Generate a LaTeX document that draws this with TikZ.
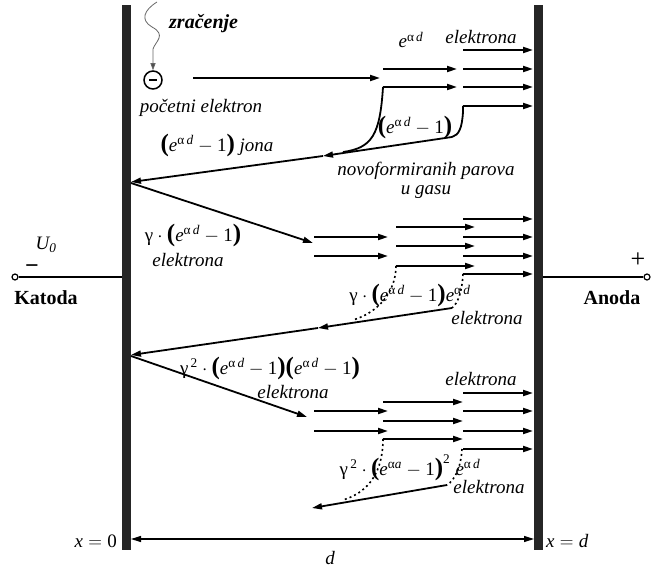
\RequirePackage{fix-cm}
\documentclass[tikz,border=0pt]{standalone}
\usepackage{amsmath}
\usepackage{fontspec}
\setmainfont{Liberation Serif}
\usetikzlibrary{arrows.meta}
\newcommand\mE{\mathit{e}}
\newcommand\ad{\text{α\,\textit{d}}}
\newcommand\gm{\text{γ}}
\newcommand\one{\mathrm{1}}
\newcommand\LP{\mathopen{\text{\fontsize{25}{25}\selectfont\bfseries(}}}
\newcommand\RP{\mathclose{\text{\fontsize{25}{25}\selectfont\bfseries)}}}
\begin{document}
\begin{tikzpicture}[x=1pt,y=-1pt,
  font=\fontsize{19}{22}\selectfont,
  tip/.style={-{Triangle[length=10pt,width=6pt]}},
  ln/.style={line width=1.8pt},
  ar/.style={ln,tip},
  dt/.style={line width=1.6pt, dash pattern=on 2pt off 3pt},
  bar/.style={fill=black!85, draw=none},
  lab/.style={inner sep=0pt, font=\fontsize{19}{22}\selectfont\itshape},
  mth/.style={inner sep=0pt, font=\fontsize{19}{22}\selectfont},
  term/.style={circle, draw, line width=1.2pt, fill=white, inner sep=0pt, minimum size=6pt}
]
\useasboundingbox (0,0) rectangle (652,569);

% electrodes
\fill[bar] (122,5) rectangle (131,550);
\fill[bar] (534,5) rectangle (543,550);

% terminals
\node[term] (tk) at (15,277) {};
\node[term] (ta) at (647,277) {};
\coordinate (bk) at (122,277);
\coordinate (ba) at (543,277);
\draw[line width=1.5pt] (tk) -- (bk);
\draw[line width=1.5pt] (ba) -- (ta);
\node[inner sep=0pt, font=\fontsize{20}{22}\selectfont\bfseries] (kat) at (46,298) {Katoda};
\node[inner sep=0pt, font=\fontsize{20}{22}\selectfont\bfseries] (ano) at (612,298) {Anoda};
\node[inner sep=0pt] (u0) at (46,245) {$\mathit{U}_{\mathit{0}}$};
\node[inner sep=0pt, font=\fontsize{24}{24}\selectfont\bfseries] (mn) at (32,269) {−};
\node[inner sep=0pt, font=\fontsize{26}{26}\selectfont] (pl) at (638,260) {+};

% radiation
\node[inner sep=0pt, font=\fontsize{20}{22}\selectfont\bfseries\itshape, anchor=west] (zr) at (169,24) {zračenje};
\node[circle, draw, line width=1.5pt, minimum size=18pt, inner sep=0pt] (el) at (153,80) {};
\draw[line width=2pt] ([xshift=-4pt]el.center) -- ([xshift=4pt]el.center);
\coordinate (w0) at (157,2);
\draw[line width=0.8pt, black!60, -{Triangle[length=7pt,width=5pt,fill=black!70]}]
  (w0) .. controls (144,10) and (140,20) .. (152,27)
  .. controls (167,35) and (155,42) .. (153,49) -- (el.north);
\node[lab] (pe) at (201,108) {početni elektron};

% ---------- first generation
\coordinate (s1) at (193,78);
\coordinate (e1) at (380,78);
\draw[ar] (s1) -- (e1);
\draw[ar] (383,69) -- (457,69);
\draw[ar] (383,87) -- (457,87);
\foreach \y in {50,69,87,106} \draw[ar] (463,\y) -- (533,\y);
\node[mth] (ead) at (411,40) {$\mE^{\ad}$};
\node[lab] (el1) at (481,37) {elektrona};
\coordinate (j1) at (452,137);
\coordinate (m1) at (323,156);
\coordinate (k1) at (131,182);
\draw[ln] (383,87) .. controls (380,135) and (372,148) .. (343,152);
\draw[ln] (463,106) -- (463,112) .. controls (462,128) and (459,135) .. (j1);
\draw[ar] (j1) -- (m1);
\draw[ar] (m1) -- (k1);
\node[mth] (p1) at (415,127) {$\LP\mE^{\ad}-\one\RP$};
\node[mth] (jona) at (217,145) {$\LP\mE^{\ad}-\one\RP$ \textit{jona}};
\node[lab] (nov) at (426,171) {novoformiranih parova};
\node[lab] (gas) at (426,192) {u gasu};

% ---------- second generation
\coordinate (k2) at (131,183);
\coordinate (t2) at (313,243);
\draw[ar] (k2) -- (t2);
\node[mth] (g1) at (193,235) {$\gm\cdot\LP\mE^{\ad}-\one\RP$};
\node[lab] (el2) at (188,260) {elektrona};
\foreach \y in {237,256} \draw[ar] (314,\y) -- (388,\y);
\foreach \y in {227,246,266} \draw[ar] (396,\y) -- (475,\y);
\foreach \y in {219,237,256,274} \draw[ar] (463,\y) -- (533,\y);
\coordinate (j2) at (452,308);
\coordinate (m2) at (318,328);
\coordinate (k3) at (131,355);
\draw[dt] (396,266) .. controls (396,290) and (380,312) .. (353,320);
\draw[dt] (463,274) .. controls (462,292) and (458,303) .. (j2);
\draw[ar] (j2) -- (m2);
\draw[ar] (m2) -- (k3);
\node[mth] (g2) at (410,295) {$\gm\cdot\LP\mE^{\ad}-\one\RP\mE^{\ad}$};
\node[lab] (el3) at (487,318) {elektrona};

% ---------- third generation
\coordinate (k4) at (131,356);
\coordinate (t4) at (307,417);
\draw[ar] (k4) -- (t4);
\node[mth] (g3) at (270,368) {$\gm^{\,\mathrm{2}}\cdot\LP\mE^{\ad}-\one\RP\LP\mE^{\ad}-\one\RP$};
\node[lab] (el4) at (293,392) {elektrona};
\node[lab] (el5) at (481,379) {elektrona};
\foreach \y in {411,431} \draw[ar] (314,\y) -- (388,\y);
\foreach \y in {402,421,439} \draw[ar] (383,\y) -- (463,\y);
\foreach \y in {393,411,431,449} \draw[ar] (463,\y) -- (533,\y);
\coordinate (j3) at (447,485);
\coordinate (t5) at (312,508);
\draw[dt] (383,439) .. controls (383,470) and (370,492) .. (343,500);
\draw[dt] (462,449) .. controls (461,467) and (455,480) .. (j3);
\draw[ar] (j3) -- (t5);
\node[mth] (g4) at (410,468) {$\gm^{\,\mathrm{2}}\cdot\LP\mE^{\text{α\textit{a}}}-\one\RP^{\mathrm{2}}\;\mE^{\ad}$};
\node[lab] (el6) at (489,487) {elektrona};

% ---------- distance
\coordinate (dl) at (131,539);
\coordinate (dr) at (534,539);
\draw[line width=1.2pt, {Triangle[length=10pt,width=6pt]}-{Triangle[length=10pt,width=6pt]}] (dl) -- (dr);
\node[mth, anchor=east] (x0) at (117,541) {$\mathit{x}=\mathrm{0}$};
\node[mth, anchor=west] (xd) at (546,541) {$\mathit{x}=\mathit{d}$};
\node[mth] (dd) at (330,558) {$\mathit{d}$};
\end{tikzpicture}
\end{document}
